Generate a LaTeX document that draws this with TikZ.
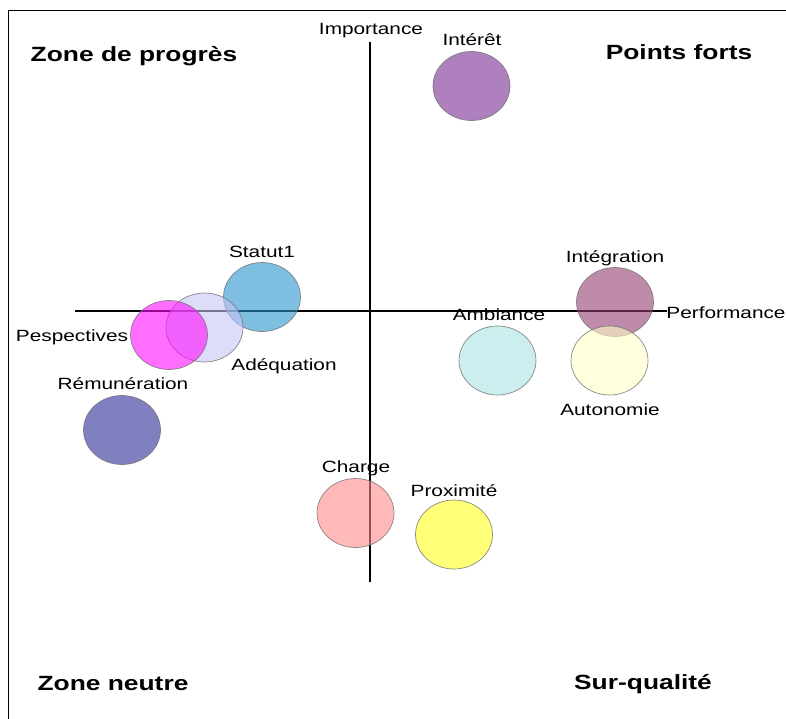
\documentclass[tikz,border=0pt]{standalone}
\usepackage{fontspec}
\setmainfont[FakeStretch=1.28]{Liberation Sans}
\usetikzlibrary{shapes.geometric}
\definecolor{cInteret}{RGB}{122,43,147}
\definecolor{cStatut}{RGB}{40,147,203}
\definecolor{cAdeq}{RGB}{198,198,247}
\definecolor{cPesp}{RGB}{255,13,255}
\definecolor{cRemu}{RGB}{43,43,150}
\definecolor{cInteg}{RGB}{147,63,113}
\definecolor{cAmb}{RGB}{172,227,227}
\definecolor{cAuto}{RGB}{255,255,198}
\definecolor{cCharge}{RGB}{255,138,138}
\definecolor{cProx}{RGB}{255,255,30}
\definecolor{cEdge}{RGB}{110,110,110}
\tikzset{
  blob/.style={ellipse, draw=cEdge, line width=0.7pt, fill opacity=0.6, draw opacity=0.8,
    minimum width=77pt, minimum height=69pt, inner sep=0pt},
  lbl/.style={inner sep=0pt, yshift=-2pt, font=\fontsize{16.25}{19}\selectfont, text=black},
  zone/.style={inner sep=0pt, yshift=-2pt, font=\fontsize{20.6}{24}\selectfont\bfseries, text=black},
  axis/.style={line width=1.8pt, black},
  frameline/.style={line width=1.6pt, black}
}
\begin{document}
\begin{tikzpicture}[x=1pt,y=-1pt]
\useasboundingbox (0,0) rectangle (786,719);
% frame
\coordinate (ftl) at (8.5,10.5);
\coordinate (ftr) at (786,10.5);
\coordinate (fbl) at (8.5,719);
\draw[frameline] (ftr) -- (ftl) -- (fbl);
% axes
\coordinate (hl) at (75,311);
\coordinate (hr) at (667,311);
\coordinate (vt) at (370,42);
\coordinate (vb) at (370,582);
\draw[axis] (hl) -- (hr);
\draw[axis] (vt) -- (vb);
% ellipses
\node[blob, fill=cInteret] (interet) at (471.5,86) {};
\node[blob, fill=cStatut] (statut) at (262,297) {};
\node[blob, fill=cAdeq] (adeq) at (204.5,327.5) {};
\node[blob, fill=cPesp] (pesp) at (169,335) {};
\node[blob, fill=cRemu] (remu) at (122,430) {};
\node[blob, fill=cInteg] (integ) at (615,302) {};
\node[blob, fill=cAmb] (amb) at (497.5,360.5) {};
\node[blob, fill=cAuto] (auto) at (609.5,360.5) {};
\node[blob, fill=cCharge] (charge) at (355.5,513) {};
\node[blob, fill=cProx] (prox) at (454,534.5) {};
% labels
\node[lbl] (limp) at (371,29) {Importance};
\node[lbl] (lperf) at (726,311) {Performance};
\node[lbl] (lint) at (472,38) {Intérêt};
\node[lbl] (lstat) at (262,250) {Statut1};
\node[lbl] (lpesp) at (72,335) {Pespectives};
\node[lbl] (ladeq) at (284,364) {Adéquation};
\node[lbl] (lremu) at (123,382) {Rémunération};
\node[lbl] (linteg) at (615,256) {Intégration};
\node[lbl] (lamb) at (499,313) {Ambiance};
\node[lbl] (lauto) at (610,408) {Autonomie};
\node[lbl] (lcharge) at (356,466) {Charge};
\node[lbl] (lprox) at (454,489) {Proximité};
% zones
\node[zone] (zprog) at (134,54) {Zone de progrès};
\node[zone] (zforts) at (679,50) {Points forts};
\node[zone] (zneutre) at (113,682) {Zone neutre};
\node[zone] (zsur) at (643,682) {Sur-qualité};
\end{tikzpicture}
\end{document}
